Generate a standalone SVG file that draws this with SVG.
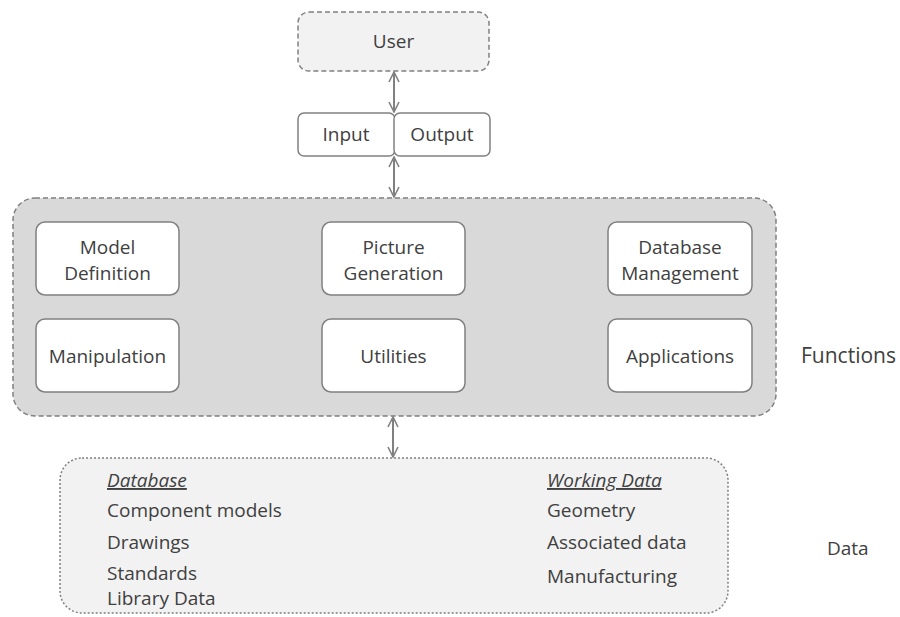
<svg xmlns="http://www.w3.org/2000/svg" width="900" height="617" viewBox="0 0 900 617">
<style>
text{font-family:"Open Sans","Liberation Sans",sans-serif;font-size:19px;fill:#404040}
.c{text-anchor:middle}
.box{fill:#fff;stroke:#808080;stroke-width:1.5}
.ln{stroke:#808080;stroke-width:2;fill:none}
.u{font-style:italic;text-decoration:underline}
</style>
<defs>
<marker id="ah" viewBox="0 0 12 12" refX="11" refY="6" markerWidth="12" markerHeight="12" markerUnits="userSpaceOnUse" orient="auto-start-reverse">
<path d="M1,1 L11,6 L1,11" fill="none" stroke="#808080" stroke-width="1.6"/>
</marker>
</defs>
<rect width="900" height="617" fill="#fff"/>
<g id="user">
<rect x="298" y="12" width="191" height="59" rx="11" fill="#f2f2f2" stroke="#808080" stroke-width="1.5" stroke-dasharray="5,3"/>
<text class="c" x="393.5" y="48">User</text>
</g>
<g id="io">
<rect x="298" y="113" width="97" height="43" rx="6" class="box"/>
<rect x="394" y="113" width="96" height="43" rx="6" class="box"/>
<text class="c" x="346" y="141">Input</text>
<text class="c" x="442" y="141">Output</text>
</g>
<g id="functions">
<rect x="13" y="198" width="763" height="218" rx="22" fill="#d9d9d9" stroke="#808080" stroke-width="1.5" stroke-dasharray="5,3"/>
<text x="801" y="363" style="font-size:21px">Functions</text>
</g>
<g id="model-definition">
<rect x="36" y="222" width="143" height="73" rx="9" class="box"/>
<text class="c" x="107.5" y="254">Model</text>
<text class="c" x="107.5" y="280">Definition</text>
</g>
<g id="picture-generation">
<rect x="322" y="222" width="143" height="73" rx="9" class="box"/>
<text class="c" x="393.5" y="254">Picture</text>
<text class="c" x="393.5" y="280">Generation</text>
</g>
<g id="database-management">
<rect x="608" y="222" width="144" height="73" rx="9" class="box"/>
<text class="c" x="680" y="254">Database</text>
<text class="c" x="680" y="280">Management</text>
</g>
<g id="manipulation">
<rect x="36" y="319" width="143" height="73" rx="9" class="box"/>
<text class="c" x="107.5" y="363">Manipulation</text>
</g>
<g id="utilities">
<rect x="322" y="319" width="143" height="73" rx="9" class="box"/>
<text class="c" x="393.5" y="363">Utilities</text>
</g>
<g id="applications">
<rect x="608" y="319" width="144" height="73" rx="9" class="box"/>
<text class="c" x="680" y="363">Applications</text>
</g>
<g id="data">
<rect x="60" y="458" width="668" height="155" rx="22" fill="#f2f2f2" stroke="#808080" stroke-width="1.5" stroke-dasharray="2,2"/>
<text class="u" x="107" y="487">Database</text>
<text x="107" y="517">Component models</text>
<text x="107" y="549">Drawings</text>
<text x="107" y="580">Standards</text>
<text x="107" y="605">Library Data</text>
<text class="u" x="547" y="487">Working Data</text>
<text x="547" y="517">Geometry</text>
<text x="547" y="549">Associated data</text>
<text x="547" y="583">Manufacturing</text>
<text x="827" y="555">Data</text>
</g>
<g id="connectors">
<line class="ln" x1="394" y1="72" x2="394" y2="112" marker-start="url(#ah)" marker-end="url(#ah)"/>
<line class="ln" x1="394" y1="157" x2="394" y2="197" marker-start="url(#ah)" marker-end="url(#ah)"/>
<line class="ln" x1="393" y1="417" x2="393" y2="457" marker-start="url(#ah)" marker-end="url(#ah)"/>
</g>
</svg>
